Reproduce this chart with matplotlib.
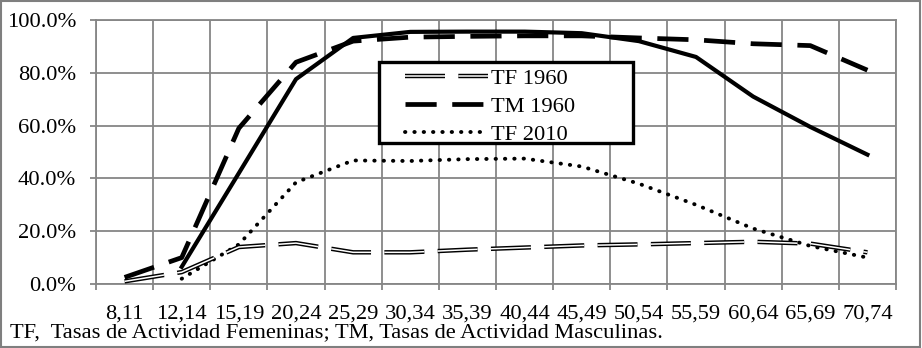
import numpy as np
import matplotlib
matplotlib.use('Agg')
from matplotlib import pyplot as plt
from matplotlib.patches import Rectangle
from matplotlib.ticker import PercentFormatter, FixedLocator

# tramos de edad y tasas de actividad (%)
edades = ['8,11', '12,14', '15,19', '20,24', '25,29', '30,34', '35,39',
          '40,44', '45,49', '50,54', '55,59', '60,64', '65,69', '70,74']
tf_1960 = [1.0, 4.5, 14.0, 15.5, 12.0, 12.0, 13.0, 13.8, 14.6, 15.0, 15.5, 16.0, 15.3, 12.0]
tm_1960 = [2.5, 10.0, 59.0, 84.0, 92.0, 93.5, 93.8, 94.0, 94.0, 93.2, 92.5, 91.0, 90.3, 81.0]
tf_2010 = [np.nan, 2.0, 15.0, 38.5, 46.8, 46.6, 47.3, 47.5, 44.5, 38.0, 30.0, 21.0, 14.4, 10.0]
tm_2010 = [np.nan, 6.5, 42.0, 77.6, 93.2, 95.5, 95.6, 95.6, 95.0, 92.0, 86.0, 71.0, 59.5, 49.0]
nombres = ['TF 1960', 'TM 1960', 'TF 2010', 'TM 2010']
nota = 'TF,  Tasas de Actividad Femeninas; TM, Tasas de Actividad Masculinas.'

plt.rcParams['font.family'] = ['Liberation Serif', 'DejaVu Serif']
plt.rcParams['font.size'] = 16.2
gris = '#868686'

fig = plt.figure(figsize=(9.22, 3.48), dpi=100)
W, H = 922, 348
ax = fig.add_axes([96 / W, 1 - 284 / H, 800 / W, 264 / H])

x = np.arange(len(edades))
tf60 = np.array(tf_1960) / 100
tm60 = np.array(tm_1960) / 100
tf10 = np.array(tf_2010) / 100
tm10 = np.array(tm_2010) / 100

# linea doble: negra gruesa + blanca fina encima
l1a, = ax.plot(x, tf60, color='black', lw=3.2, dashes=(9, 3), zorder=3)
l1b, = ax.plot(x, tf60, color='white', lw=1.1, dashes=(26.2, 8.7), zorder=3.1)
l2, = ax.plot(x, tm60, color='black', lw=3.4, dashes=(6.6, 3.3), zorder=3)
l3, = ax.plot(x, tf10, color='black', lw=2.8, linestyle=(0, (0.1, 2.3)),
              dash_capstyle='round', zorder=3)
l4, = ax.plot(x, tm10, color='black', lw=3.0, zorder=3, label=nombres[3])

ax.set_xlim(-0.5, len(edades) - 0.5)
ax.set_ylim(0, 1)
ax.yaxis.set_major_locator(FixedLocator([0, 0.2, 0.4, 0.6, 0.8, 1.0]))
ax.yaxis.set_major_formatter(PercentFormatter(1.0, decimals=1))
ax.set_xticks(x)
ax.set_xticklabels(edades)
ax.set_xticks(np.arange(len(edades) + 1) - 0.5, minor=True)
ax.tick_params(axis='x', which='major', length=0, pad=15)
ax.tick_params(axis='x', which='minor', length=4.3, width=1.3, color=gris, direction='out')
ax.tick_params(axis='y', length=4.3, width=1.3, color=gris, direction='out', pad=10)
ax.grid(True, which='minor', axis='x', color=gris, lw=1.3)
ax.grid(True, which='major', axis='y', color=gris, lw=1.3)
ax.set_axisbelow(True)
for s in ax.spines.values():
    s.set_color(gris)
    s.set_linewidth(1.3)

# caja de la leyenda
ax.add_patch(Rectangle(((379 - 96) / 800, (284 - 143) / 264), 254 / 800, 81 / 264,
                       transform=ax.transAxes, facecolor='white', edgecolor='black',
                       lw=2.4, zorder=5))
leg = ax.legend([(l1a, l1b), l2, l3], nombres[:3], loc='upper left',
                bbox_to_anchor=((405 - 96) / 800, (284 - 68) / 264), frameon=False,
                borderpad=0, borderaxespad=0, handlelength=3.7, handletextpad=0.12,
                labelspacing=0.33)
leg.set_zorder(6)

fig.text(10 / W, 1 - 337 / H, nota, ha='left', va='baseline')
fig.add_artist(Rectangle((0.001, 0.002), 0.997, 0.995, transform=fig.transFigure,
                         fill=False, edgecolor='#7f7f7f', lw=1.5))

fig.savefig('out.png', dpi=100)
